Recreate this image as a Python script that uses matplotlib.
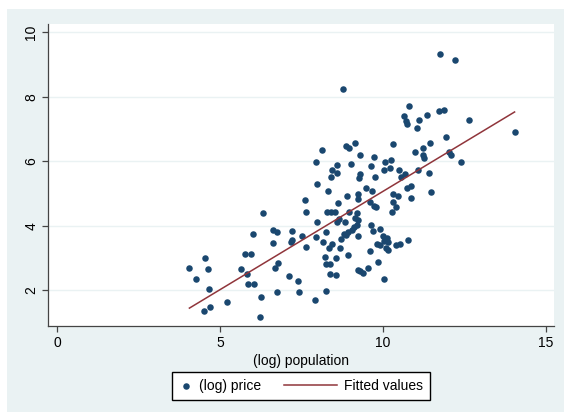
import numpy as np
import matplotlib
matplotlib.use("Agg")
import matplotlib.pyplot as plt
from matplotlib.patches import Rectangle
from matplotlib.legend_handler import HandlerLine2D

# (log) population / (log) price
population = [4.06, 4.27, 4.55, 4.63, 4.66, 4.50, 4.69, 5.20, 5.64, 5.83,
              5.78, 5.94, 6.01, 5.85, 6.03, 6.27, 6.23, 6.33, 6.62, 6.76,
              6.62, 6.77, 6.68, 6.76, 7.20, 7.19, 7.22, 7.13, 7.38, 7.42,
              7.52, 7.65, 7.95, 7.60, 7.63, 7.98, 7.91, 8.26, 8.24, 8.17,
              8.43, 8.34, 8.71, 8.82, 8.94, 8.23, 8.56, 8.25, 8.36, 8.36,
              8.55, 8.68, 8.12, 7.95, 8.86, 8.96, 8.59, 8.44, 8.59, 8.40,
              7.99, 8.30, 8.89, 8.63, 8.29, 8.41, 8.52, 8.64, 8.83, 8.59,
              8.97, 9.15, 8.76, 11.74, 12.21,
              9.22, 9.29, 9.38, 9.55, 9.59, 9.85, 10.02, 9.24,
              9.99, 10.12, 10.03, 10.17, 9.81, 9.92, 10.08, 10.17,
              9.91, 9.64, 9.68, 10.41, 10.52, 10.77,
              8.86, 8.94, 9.04, 9.11, 9.21,
              9.21, 9.15, 9.22, 9.73, 9.78, 10.30, 10.39, 10.28,
              10.81, 10.64, 10.70, 10.75, 11.10, 11.36, 11.04, 10.32, 11.43, 11.24,
              10.97, 11.23, 11.27, 9.29, 9.72, 10.25, 10.05, 9.03, 9.62, 10.22,
              10.04, 10.50, 11.08, 11.41, 10.67, 10.55, 9.29, 9.28, 9.75, 9.24,
              9.24, 9.47, 9.67, 10.30, 10.46, 10.73, 10.86, 10.86, 11.47, 9.59,
              11.72, 11.86, 12.65, 14.04, 11.94, 12.03, 12.10, 12.41]
price = [2.70, 2.36, 3.01, 2.66, 2.03, 1.36, 1.48, 1.62, 2.65, 2.51,
         3.12, 3.12, 3.75, 2.20, 2.20, 1.78, 1.18, 4.41, 3.86, 3.80,
         3.46, 2.86, 2.70, 1.96, 3.84, 3.51, 3.57, 2.44, 2.29, 1.96,
         3.68, 3.35, 3.66, 4.81, 4.42, 4.13, 1.69, 1.97, 3.80, 3.49,
         3.44, 3.30, 3.60, 3.73, 3.09, 3.03, 2.99, 2.82, 2.81, 2.51,
         2.47, 3.32, 6.35, 5.98, 6.49, 6.41, 5.89, 5.72, 5.64, 5.52,
         5.29, 5.09, 4.92, 4.72, 4.42, 4.42, 4.42, 4.21, 4.13, 4.11,
         4.42, 6.58, 8.23, 9.33, 9.14,
         2.63, 2.59, 2.54, 2.68, 3.22, 2.87, 2.35, 3.68,
         3.69, 3.61, 3.54, 3.51, 3.44, 3.40, 3.32, 3.26,
         3.90, 4.02, 3.85, 3.40, 3.44, 3.55,
         3.71, 3.82, 3.88, 3.95, 4.01,
         4.39, 4.25, 4.18, 4.61, 4.57, 4.73, 4.57, 4.44,
         7.72, 7.41, 7.26, 7.16, 7.29, 7.44, 7.02, 6.54, 6.56, 6.42,
         6.30, 6.20, 6.11, 6.20, 6.13, 6.03, 5.97, 5.91, 5.84, 5.78,
         5.72, 5.72, 5.74, 5.65, 5.62, 5.50, 5.62, 5.47, 5.51, 4.99,
         4.82, 5.18, 5.09, 4.99, 4.93, 5.18, 5.22, 4.87, 5.06, 4.75,
         7.57, 7.60, 7.29, 6.91, 6.74, 6.30, 6.19, 5.97]

x = np.array(population)
y = np.array(price)
b, a = np.polyfit(x, y, 1)
xf = np.array([x.min(), x.max()])
yf = a + b * xf

navy = "#1a476f"
maroon = "#90353b"
bg = "#eaf2f3"

plt.rcParams["font.family"] = ["Liberation Sans", "DejaVu Sans"]


class LongLine(HandlerLine2D):
    # legend line reaching further left than the handle box
    def get_xdata(self, legend, xdescent, ydescent, width, height, fontsize):
        xd, xm = super().get_xdata(legend, xdescent, ydescent, width, height, fontsize)
        return [xd[0] - 2.8 * fontsize, xd[1]], xm


fig = plt.figure(figsize=(5.64, 4.12), dpi=100, facecolor="white")
fig.patches.append(Rectangle((7 / 564, 0), 1, 1 - 9 / 412, transform=fig.transFigure,
                             facecolor=bg, edgecolor="none", zorder=-5))
ax = fig.add_axes([48 / 564, 1 - 326 / 412, 506 / 564, 302 / 412])
ax.set_facecolor("white")

sc = ax.scatter(x, y, s=22, color=navy, linewidths=0, zorder=3, label="(log) price")
ln, = ax.plot(xf, yf, color=maroon, lw=1.1, zorder=4, label="Fitted values")

ax.set_xlim(-0.28, 15.25)
ax.set_ylim(0.89, 10.26)
ax.set_xticks([0, 5, 10, 15])
ax.set_yticks([2, 4, 6, 8, 10])
ax.grid(axis="y", color=bg, lw=1.0, zorder=0)
ax.grid(axis="x", visible=False)
for s in ["top", "right"]:
    ax.spines[s].set_visible(False)
for s in ["left", "bottom"]:
    ax.spines[s].set_color("#444444")
    ax.spines[s].set_linewidth(0.9)
ax.tick_params(direction="out", length=4, width=0.9, color="#444444",
               labelsize=10, pad=3)
for lab in ax.get_yticklabels():
    lab.set_rotation(90)
    lab.set_va("center")
ax.set_xlabel("(log) population", fontsize=10, labelpad=3)

fig.legend([sc, ln], ["(log) price", "Fitted values"], loc="center",
           bbox_to_anchor=(0.533, 0.063), ncol=2, fontsize=10,
           frameon=True, fancybox=False, edgecolor="black", facecolor="white",
           framealpha=1, handlelength=1.0, handletextpad=0.5, columnspacing=4.4,
           borderpad=0.5, scatterpoints=1,
           handler_map={ln: LongLine()})

fig.savefig("out.png", dpi=100, facecolor="white")
